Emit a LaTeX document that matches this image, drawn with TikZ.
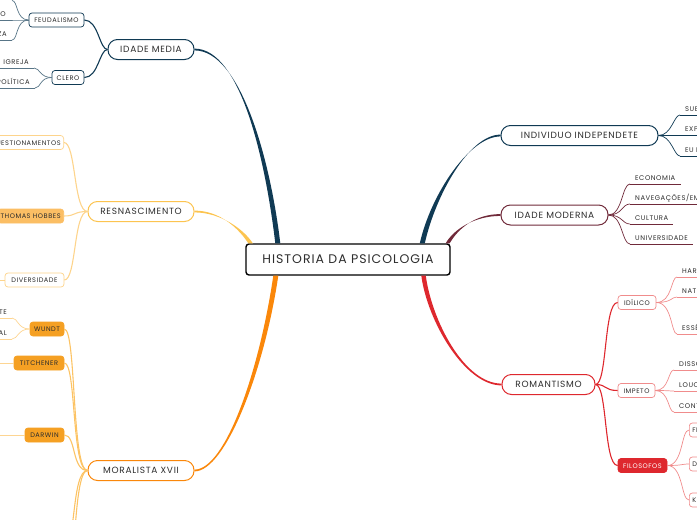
\documentclass[tikz,border=0pt]{standalone}
\usepackage{fontspec}
\setmainfont[LetterSpace=8]{Poppins}
\usetikzlibrary{calc}
\definecolor{txt}{RGB}{45,45,45}
\definecolor{navy}{RGB}{16,58,84}
\definecolor{wine}{RGB}{112,42,58}
\definecolor{crimson}{RGB}{222,40,46}
\definecolor{pinkline}{RGB}{240,140,140}
\definecolor{amber}{RGB}{250,135,10}
\definecolor{amberline}{RGB}{252,195,100}
\definecolor{amberfill}{RGB}{245,160,35}
\definecolor{sun}{RGB}{252,196,80}
\definecolor{sunline}{RGB}{253,212,140}
\definecolor{sunfill}{RGB}{251,190,100}
\tikzset{
  root/.style={draw=black, line width=1.4pt, rounded corners=3pt, fill=white,
    minimum width=204pt, minimum height=31pt, text=txt,
    font=\fontsize{12.5}{14}\selectfont},
  topic/.style={draw=#1, line width=1pt, rounded corners=9.5pt, fill=white,
    minimum height=20pt, text=txt, font=\fontsize{9}{10}\selectfont},
  sub/.style={draw=#1, line width=0.7pt, rounded corners=3pt, fill=white,
    minimum height=14pt, inner xsep=3pt, text height=5pt, text depth=0pt,
    text=txt, font=\fontsize{6.6}{7}\selectfont},
  leaf/.style={inner xsep=5pt, inner ysep=3.5pt, text height=5pt, text depth=0pt,
    text=txt, font=\fontsize{6.8}{7}\selectfont,
    append after command={(\tikzlastnode.south west) edge[draw=#1, line width=0.7pt] (\tikzlastnode.south east)}},
  twig/.style={draw=#1, line width=1.1pt},
  sprig/.style={draw=#1, line width=0.7pt},
}
\begin{document}
\begin{tikzpicture}[x=1pt,y=-1pt]
\useasboundingbox (0,0) rectangle (697,520);
\clip (0,0) rectangle (697,520);
% central topic and main topics
\node[root] (hist) at (348,259.5) {HISTORIA DA PSICOLOGIA};
\node[topic=navy, minimum width=86pt] (imedia) at (151,49.5) {IDADE MEDIA};
\node[topic=sun, minimum width=106pt] (resn) at (141,211.5) {RESNASCIMENTO};
\node[topic=amber, minimum width=106pt] (moral) at (141,470.5) {MORALISTA XVII};
\node[topic=navy, minimum width=157pt] (indiv) at (579.5,135.5) {INDIVIDUO INDEPENDETE};
\node[topic=wine, minimum width=107pt] (imod) at (554.5,215) {IDADE MODERNA};
\node[topic=crimson, minimum width=93pt] (roman) at (548.5,384.5) {ROMANTISMO};
% tapered branches
\fill[navy] ($(imedia.east)+(0,-0.9)$) .. controls +(46,0) and +(-10,-84) .. ($(hist.north west)+(30,0)$)
  -- ($(hist.north west)+(35,0)$) .. controls +(-10,-84) and +(46,0) .. ($(imedia.east)+(0,0.9)$) -- cycle;
\fill[sun] ($(resn.east)+(0,-0.9)$) .. controls +(26,0) and +(-9,-14) .. ($(hist.north west)+(3,0)$)
  -- ($(hist.north west)+(7.5,0)$) .. controls +(-9,-14) and +(26,0) .. ($(resn.east)+(0,0.9)$) -- cycle;
\fill[amber] ($(moral.east)+(0,-0.9)$) .. controls +(31,0) and +(-14,95) .. ($(hist.south west)+(28,0)$)
  -- ($(hist.south west)+(33,0)$) .. controls +(-14,95) and +(31,0) .. ($(moral.east)+(0,0.9)$) -- cycle;
\fill[navy] ($(indiv.west)+(0,-0.9)$) .. controls +(-31,0) and +(11,-49) .. ($(hist.north west)+(179.5,0)$)
  -- ($(hist.north west)+(174.5,0)$) .. controls +(11,-49) and +(-31,0) .. ($(indiv.west)+(0,0.9)$) -- cycle;
\fill[wine] ($(imod.west)+(0,-0.9)$) .. controls +(-26,0) and +(8,-14) .. ($(hist.north east)+(-1,0)$)
  -- ($(hist.north east)+(-5,0)$) .. controls +(8,-14) and +(-26,0) .. ($(imod.west)+(0,0.9)$) -- cycle;
\fill[crimson] ($(roman.west)+(0,-0.9)$) .. controls +(-37,0) and +(6,45) .. ($(hist.south west)+(180.5,0)$)
  -- ($(hist.south west)+(176,0)$) .. controls +(6,45) and +(-37,0) .. ($(roman.west)+(0,0.9)$) -- cycle;
% idade media
\node[sub=navy, minimum width=55pt] (feud) at (56.5,20) {FEUDALISMO};
\node[sub=navy, minimum width=32pt] (clero) at (68,77.5) {CLERO};
\draw[twig=navy] (imedia.west) .. controls +(-8,0) and +(14,0) .. (feud.east);
\draw[twig=navy] (imedia.west) .. controls +(-8,0) and +(14,0) .. (clero.east);
\coordinate (f0) at (12,0.5);
\node[leaf=navy!70, anchor=south east] (f1) at (11,20) {FEUDO};
\node[leaf=navy!70, anchor=south east] (f2) at (12,40) {NOBREZA};
\foreach \k in {f0,f1,f2}
  \draw[sprig=navy!70] (feud.west) .. controls +(-13,0) and +(6,0) .. (\k.south east);
\node[leaf=navy!70, anchor=south east] (c1) at (34,68) {IGREJA};
\node[leaf=navy!70, anchor=south east] (c2) at (35,88) {POLÍTICA};
\foreach \k in {c1,c2}
  \draw[sprig=navy!70] (clero.west) .. controls +(-12,0) and +(6,0) .. (\k.south east);
% resnascimento
\node[sub=sunline, anchor=east] (quest) at (64,142.5) {QUESTIONAMENTOS};
\node[sub=sunfill, fill=sunfill, anchor=east] (hobbes) at (64,216) {THOMAS HOBBES};
\node[sub=sunline, minimum width=59pt] (divers) at (34.5,280) {DIVERSIDADE};
\foreach \k in {quest,hobbes,divers}
  \draw[twig=sunline] (resn.west) .. controls +(-14,0) and +(12,0) .. (\k.east);
\coordinate (dv) at (0,280);
\draw[sprig=sunline] (divers.west) -- (dv);
% moralista
\node[sub=amberfill, fill=amberfill, minimum width=34pt] (wundt) at (47,329) {WUNDT};
\node[sub=amberfill, fill=amberfill, minimum width=50pt] (titch) at (39,363) {TITCHENER};
\node[sub=amberfill, fill=amberfill, minimum width=39pt] (darwin) at (44.5,435) {DARWIN};
\coordinate (m1) at (64,548);
\coordinate (m2) at (64,610);
\foreach \k in {wundt,titch,darwin,m1,m2}
  \draw[twig=amberline] (moral.west) .. controls +(-16,0) and +(12,0) .. (\k.east);
\node[leaf=amberline!70, anchor=south east] (w1) at (12,318) {CONSCIENTE};
\node[leaf=amberline!70, anchor=south east] (w2) at (12,339) {EXPERIMENTAL};
\foreach \k in {w1,w2}
  \draw[sprig=amberline!70] (wundt.west) .. controls +(-12,0) and +(6,0) .. (\k.south east);
\coordinate (tt) at (0,363);
\coordinate (dw) at (0,435);
\draw[sprig=amberline!70] (titch.west) -- (tt);
\draw[sprig=amberline!70] (darwin.west) -- (dw);
% individuo independete
\node[leaf=navy, anchor=south west] (i1) at (680,115) {SUBJETIVIDADE};
\node[leaf=navy, anchor=south west] (i2) at (680,135.5) {EXPERIÊNCIA};
\node[leaf=navy, anchor=south west] (i3) at (680,156) {EU INTERIOR};
\foreach \k in {i1,i2,i3}
  \draw[sprig=navy] (indiv.east) .. controls +(13,0) and +(-6,0) .. (\k.south west);
% idade moderna
\node[leaf=wine, anchor=south west] (d1) at (630,184) {ECONOMIA};
\node[leaf=wine, anchor=south west] (d2) at (630,204) {NAVEGAÇÕES/EMBARCAÇÕES};
\node[leaf=wine, anchor=south west] (d3) at (630,224) {CULTURA};
\node[leaf=wine, anchor=south west] (d4) at (630,244) {UNIVERSIDADE};
\foreach \k in {d1,d2,d3,d4}
  \draw[sprig=wine] (imod.east) .. controls +(14,0) and +(-8,0) .. (\k.south west);
% romantismo
\node[sub=pinkline, minimum width=38pt] (idil) at (637,302.5) {IDÍLICO};
\node[sub=pinkline, minimum width=37pt] (impeto) at (636.5,390.5) {IMPETO};
\node[sub=crimson, fill=crimson, text=white, minimum width=49pt] (filo) at (642.5,465.5) {FILOSOFOS};
\foreach \k in {idil,impeto,filo}
  \draw[twig=crimson] (roman.east) .. controls +(12,0) and +(-14,0) .. (\k.west);
\node[leaf=pinkline, anchor=south west] (r1) at (677,277) {HARMONIA};
\node[leaf=pinkline, anchor=south west] (r2) at (677,297) {NATUREZA};
\node[leaf=pinkline, anchor=south west] (r3) at (677,334) {ESSÊNCIA};
\foreach \k in {r1,r2,r3}
  \draw[sprig=pinkline] (idil.east) .. controls +(16,0) and +(-6,0) .. (\k.south west);
\node[leaf=pinkline, anchor=south west] (p1) at (674,370) {DISSONÂNCIA};
\node[leaf=pinkline, anchor=south west] (p2) at (674,391) {LOUCURA};
\node[leaf=pinkline, anchor=south west] (p3) at (674,412) {CONTRADIÇÃO};
\foreach \k in {p1,p2,p3}
  \draw[sprig=pinkline] (impeto.east) .. controls +(14,0) and +(-6,0) .. (\k.south west);
\node[sub=pinkline, anchor=west] (h1) at (689,430) {FICHTE};
\node[sub=pinkline, anchor=west] (h2) at (689,464) {DILTHEY};
\node[sub=pinkline, anchor=west] (h3) at (689,500) {KANT};
\foreach \k in {h1,h2,h3}
  \draw[sprig=pinkline] (filo.east) .. controls +(16,0) and +(-8,0) .. (\k.west);
\end{tikzpicture}
\end{document}
